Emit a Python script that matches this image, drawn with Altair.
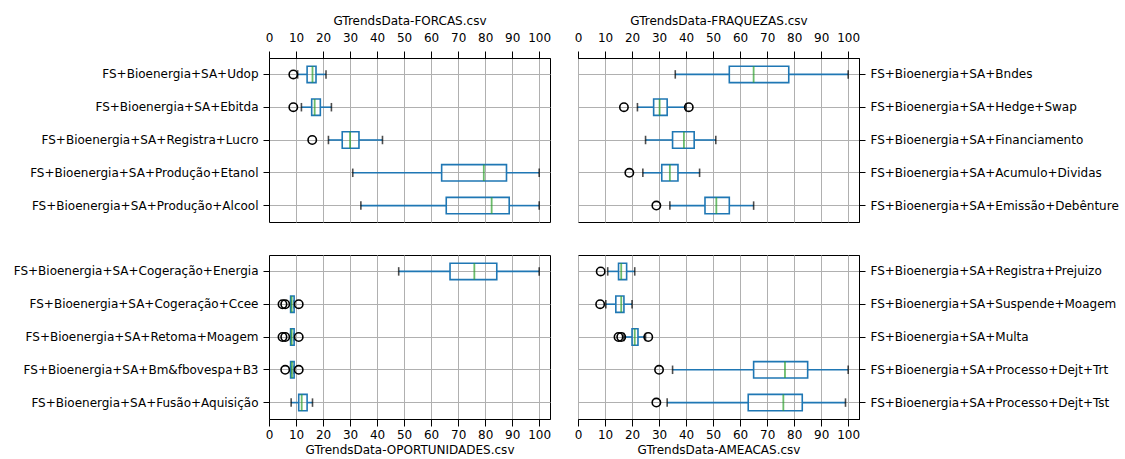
import altair as alt
import pandas as pd

FONT = "DejaVu Sans"
BLUE = "#1f77b4"
GREEN = "#2ca02c"

# ---- GTrendsData-FORCAS.csv (top-left) ----
forcas_names = ["FS+Bioenergia+SA+Udop", "FS+Bioenergia+SA+Ebitda", "FS+Bioenergia+SA+Registra+Lucro",
                "FS+Bioenergia+SA+Produção+Etanol", "FS+Bioenergia+SA+Produção+Alcool"]
forcas_wlo = [10.6, 12, 22, 31, 34]
forcas_q1 = [14.1, 15.8, 27.1, 63.9, 65.6]
forcas_med = [16.1, 16.9, 30, 79.5, 82.4]
forcas_q3 = [17.4, 19, 33.3, 87.9, 88.9]
forcas_whi = [21.1, 23.1, 42, 100, 100]
forcas_out = [[9], [9], [16], [], []]

# ---- GTrendsData-FRAQUEZAS.csv (top-right) ----
fraq_names = ["FS+Bioenergia+SA+Bndes", "FS+Bioenergia+SA+Hedge+Swap", "FS+Bioenergia+SA+Financiamento",
              "FS+Bioenergia+SA+Acumulo+Dividas", "FS+Bioenergia+SA+Emissão+Debênture"]
fraq_wlo = [36, 22, 25, 24, 34]
fraq_q1 = [56, 28, 35, 31, 47]
fraq_med = [65, 30.2, 39.2, 34, 51.2]
fraq_q3 = [78, 33, 43, 37, 56]
fraq_whi = [100, 40, 51, 45, 65]
fraq_out = [[], [17, 41], [], [19], [29]]

# ---- GTrendsData-OPORTUNIDADES.csv (bottom-left) ----
opor_names = ["FS+Bioenergia+SA+Cogeração+Energia", "FS+Bioenergia+SA+Cogeração+Ccee",
              "FS+Bioenergia+SA+Retoma+Moagem", "FS+Bioenergia+SA+Bm&fbovespa+B3",
              "FS+Bioenergia+SA+Fusão+Aquisição"]
opor_wlo = [48, 8, 8, 8, 8.2]
opor_q1 = [67, 8, 8, 8, 11]
opor_med = [76, 8.4, 8.4, 8.5, 12.1]
opor_q3 = [84.3, 9.3, 9.3, 9.3, 14.1]
opor_whi = [100, 9.3, 9.3, 9.3, 16.1]
opor_out = [[], [5, 6, 11], [5, 6, 11], [6, 11], []]

# ---- GTrendsData-AMEACAS.csv (bottom-right) ----
amea_names = ["FS+Bioenergia+SA+Registra+Prejuizo", "FS+Bioenergia+SA+Suspende+Moagem",
              "FS+Bioenergia+SA+Multa", "FS+Bioenergia+SA+Processo+Dejt+Trt",
              "FS+Bioenergia+SA+Processo+Dejt+Tst"]
amea_wlo = [11, 10.3, 17, 35, 33]
amea_q1 = [15, 14, 20, 65, 63]
amea_med = [16, 16, 21, 76.6, 76]
amea_q3 = [18, 17, 22.2, 85, 83]
amea_whi = [21, 20, 25, 100, 99]
amea_out = [[8.4], [8.2], [15, 16, 26], [30], [29]]

TICKS = [0, 10, 20, 30, 40, 50, 60, 70, 80, 90, 100]
W, H = 281, 164
BAND = H / 5.0


def panel(names, wlo, q1, med, q3, whi, outs, title, top, right):
    df = pd.DataFrame({"name": names, "wlo": wlo, "q1": q1, "med": med, "q3": q3, "whi": whi})
    odf = pd.DataFrame([{"name": n, "v": v} for n, o in zip(names, outs) for v in o])
    xscale = alt.Scale(domain=[0, 104], nice=False, zero=False)
    yscale = alt.Scale(domain=names, paddingInner=0, paddingOuter=0)
    if top:
        xaxis = alt.Axis(orient="top", title=title, values=TICKS, grid=True, format="d",
                         tickSize=7, labelPadding=7, titlePadding=4)
    else:
        xaxis = alt.Axis(orient="bottom", title=title, values=TICKS, grid=True, format="d",
                         tickSize=7, labelPadding=3, titlePadding=4)
    yaxis = alt.Axis(orient="right" if right else "left", title=None, grid=True,
                     bandPosition=0.5, tickSize=6, labelPadding=5, labelLimit=0)
    y = alt.Y("name:N", scale=yscale, axis=yaxis, sort=names)

    base = alt.Chart(df)
    w1 = base.mark_rule(color=BLUE, strokeWidth=1.6).encode(
        x=alt.X("wlo:Q", scale=xscale, axis=xaxis), x2="q1:Q", y=y)
    w2 = base.mark_rule(color=BLUE, strokeWidth=1.6).encode(
        x=alt.X("q3:Q", scale=xscale, axis=xaxis), x2="whi:Q", y=y)
    c1 = base.mark_tick(color="black", thickness=1.6, size=8.5, orient="vertical").encode(
        x=alt.X("wlo:Q", scale=xscale, axis=xaxis), y=y)
    c2 = base.mark_tick(color="black", thickness=1.6, size=8.5, orient="vertical").encode(
        x=alt.X("whi:Q", scale=xscale, axis=xaxis), y=y)
    box = base.mark_bar(fillOpacity=0, stroke=BLUE, strokeWidth=1.6, size=BAND * 0.5).encode(
        x=alt.X("q1:Q", scale=xscale, axis=xaxis), x2="q3:Q", y=y)
    md = base.mark_tick(color=GREEN, thickness=1.8, size=BAND * 0.5, orient="vertical").encode(
        x=alt.X("med:Q", scale=xscale, axis=xaxis), y=y)
    pts = alt.Chart(odf).mark_point(shape="circle", filled=False, color="black", size=70,
                                    strokeWidth=1.6, opacity=1).encode(
        x=alt.X("v:Q", scale=xscale, axis=xaxis), y=y)
    return alt.layer(w1, w2, c1, c2, box, md, pts).properties(width=W, height=H)


tl = panel(forcas_names, forcas_wlo, forcas_q1, forcas_med, forcas_q3, forcas_whi, forcas_out,
           "GTrendsData-FORCAS.csv", True, False)
tr = panel(fraq_names, fraq_wlo, fraq_q1, fraq_med, fraq_q3, fraq_whi, fraq_out,
           "GTrendsData-FRAQUEZAS.csv", True, True)
bl = panel(opor_names, opor_wlo, opor_q1, opor_med, opor_q3, opor_whi, opor_out,
           "GTrendsData-OPORTUNIDADES.csv", False, False)
br = panel(amea_names, amea_wlo, amea_q1, amea_med, amea_q3, amea_whi, amea_out,
           "GTrendsData-AMEACAS.csv", False, True)

chart = alt.concat(tl, tr, bl, br, columns=2, spacing={"row": 33, "column": 28},
                   bounds="flush").properties(
    padding={"left": 12, "top": 13, "right": 5, "bottom": 5},
    background="white",
).configure_view(
    stroke="black", strokeWidth=1
).configure_axis(
    labelFont=FONT, titleFont=FONT, labelFontSize=12, titleFontSize=12,
    titleFontWeight="normal", labelColor="black", titleColor="black",
    tickColor="black", domainColor="black", gridColor="#b0b0b0", gridWidth=1,
    labelOverlap=False, labelFlush=False
)

chart.save("out.html", embed_options={"renderer": "svg", "actions": False})
